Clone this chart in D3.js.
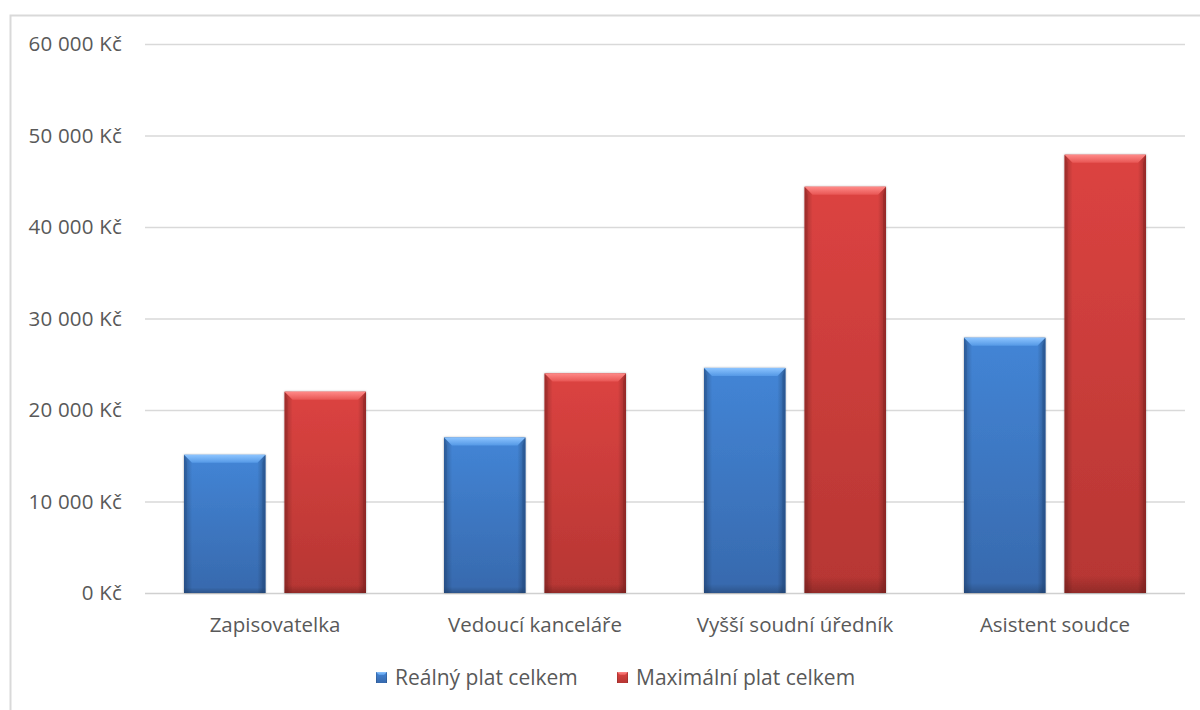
<!DOCTYPE html>
<html><head><meta charset="utf-8">
<script src="https://cdn.jsdelivr.net/npm/d3@7"></script>
<style>
body{margin:0;background:#fff;}
text{font-family:"Open Sans",sans-serif;fill:#595959;}
</style></head>
<body><svg id="c" width="1200" height="710"></svg>
<script>
const categories = ["Zapisovatelka","Vedoucí kanceláře","Vyšší soudní úředník","Asistent soudce"];
const seriesNames = ["Reálný plat celkem","Maximální plat celkem"];
const realnyPlat = [15100, 17000, 24600, 27900];
const maxPlat = [22000, 24000, 44400, 47900];
const yTicks = [0,10000,20000,30000,40000,50000,60000];

const svg = d3.select("#c");

// frame
svg.append("rect").attr("x",10.5).attr("y",15.5).attr("width",1200).attr("height",720)
  .attr("fill","none").attr("stroke","#d9d9d9").attr("stroke-width",2);

const defs=svg.append("defs");
const pal=[
 {main1:"#4385d6",main2:"#3769ad",bevel1:"#8cc4ff",bevel2:"#5599e6",edge:"#24508c"},
 {main1:"#dc4341",main2:"#b63633",bevel1:"#ff8a88",bevel2:"#e85654",edge:"#8e2422"}
];
pal.forEach((p,i)=>{
  const g=defs.append("linearGradient").attr("id","v"+i).attr("x1",0).attr("y1",0).attr("x2",0).attr("y2",1);
  g.append("stop").attr("offset","0%").attr("stop-color",p.main1);
  g.append("stop").attr("offset","100%").attr("stop-color",p.main2);
  const b=defs.append("linearGradient").attr("id","b"+i).attr("x1",0).attr("y1",0).attr("x2",0).attr("y2",1);
  b.append("stop").attr("offset","0%").attr("stop-color",p.bevel1);
  b.append("stop").attr("offset","100%").attr("stop-color",p.bevel2);
});
const hg=defs.append("linearGradient").attr("id","hedge").attr("x1",0).attr("y1",0).attr("x2",1).attr("y2",0);
hg.append("stop").attr("offset","0%").attr("stop-color","#000").attr("stop-opacity",0.25);
hg.append("stop").attr("offset","10%").attr("stop-color","#000").attr("stop-opacity",0.0);
hg.append("stop").attr("offset","90%").attr("stop-color","#000").attr("stop-opacity",0.0);
hg.append("stop").attr("offset","100%").attr("stop-color","#000").attr("stop-opacity",0.28);
const vg=defs.append("linearGradient").attr("id","vedge").attr("x1",0).attr("y1",0).attr("x2",0).attr("y2",1);
vg.append("stop").attr("offset","0%").attr("stop-color","#000").attr("stop-opacity",0);
vg.append("stop").attr("offset","96%").attr("stop-color","#000").attr("stop-opacity",0);
vg.append("stop").attr("offset","100%").attr("stop-color","#000").attr("stop-opacity",0.2);
const sh=defs.append("filter").attr("id","sh").attr("x","-20%").attr("y","-20%").attr("width","140%").attr("height","140%");
sh.append("feDropShadow").attr("dx",0).attr("dy",0).attr("stdDeviation",1.2).attr("flood-color","#000").attr("flood-opacity",0.35);

const x=d3.scaleBand().domain(categories).range([145,1185]).paddingInner(0).paddingOuter(0);
const x1=d3.scaleBand().domain([0,1]).range([39,x.bandwidth()-39]).paddingInner(0.19);
const y=d3.scaleLinear().domain([0,60000]).range([593,44]);

const fmt=v=>d3.format(",")(v).replace(/,/g," ")+" Kč";
const yAxis=svg.append("g").attr("transform","translate(145,0)")
  .call(d3.axisLeft(y).tickValues(yTicks).tickSize(-1040).tickFormat(fmt).tickPadding(23));
yAxis.select(".domain").remove();
yAxis.selectAll("line").attr("stroke","#d9d9d9").attr("stroke-width",1.3);
yAxis.selectAll("text").attr("font-size","20.5px").attr("fill","#595959").attr("font-family","Open Sans").attr("letter-spacing","0.2px");
yAxis.selectAll(".tick").filter(d=>d===0).select("line").attr("stroke","#d0d0d0");

const xAxis=svg.append("g").attr("transform","translate(0,593)")
  .call(d3.axisBottom(x).tickSize(0).tickPadding(24));
xAxis.select(".domain").remove();
xAxis.selectAll("text").attr("font-size","20.5px").attr("fill","#595959").attr("font-family","Open Sans");

const data=[realnyPlat,maxPlat];
const bev=8;
categories.forEach((c,ci)=>{
  [0,1].forEach(si=>{
    const v=data[si][ci];
    const bx=x(c)+x1(si), bw=x1.bandwidth(), by=y(v), bh=y(0)-y(v);
    const g=svg.append("g");
    g.append("rect").attr("x",bx).attr("y",by).attr("width",bw).attr("height",bh)
      .attr("fill","url(#v"+si+")").attr("filter","url(#sh)");
    g.append("rect").attr("x",bx).attr("y",by).attr("width",bw).attr("height",bh).attr("fill","url(#hedge)");
    g.append("rect").attr("x",bx).attr("y",by).attr("width",bw).attr("height",bh).attr("fill","url(#vedge)");
    g.append("path").attr("d",`M${bx},${by}L${bx+3},${by+bev}L${bx+3},${by+bh}L${bx},${by+bh}Z`)
      .attr("fill",pal[si].edge).attr("opacity",0.35);
    g.append("path").attr("d",`M${bx+bw},${by}L${bx+bw-3},${by+bev}L${bx+bw-3},${by+bh}L${bx+bw},${by+bh}Z`)
      .attr("fill",pal[si].edge).attr("opacity",0.5);
    g.append("path").attr("d",`M${bx},${by}L${bx+bw},${by}L${bx+bw-bev},${by+bev}L${bx+bev},${by+bev}Z`)
      .attr("fill","url(#b"+si+")");
  });
});

// legend
const leg=svg.append("g");
const legX=[376,617];
seriesNames.forEach((n,i)=>{
  const lx=legX[i], ly=672;
  leg.append("rect").attr("x",lx).attr("y",ly).attr("width",11).attr("height",11).attr("fill","url(#v"+i+")");
  leg.append("path").attr("d",`M${lx},${ly}L${lx+11},${ly}L${lx+8},${ly+3}L${lx+3},${ly+3}Z`).attr("fill","url(#b"+i+")");
  leg.append("rect").attr("x",lx).attr("y",ly).attr("width",11).attr("height",11).attr("fill","url(#hedge)");
  leg.append("text").attr("x",lx+19).attr("y",ly+12.5).attr("font-size","21px").text(n);
});
</script></body></html>
